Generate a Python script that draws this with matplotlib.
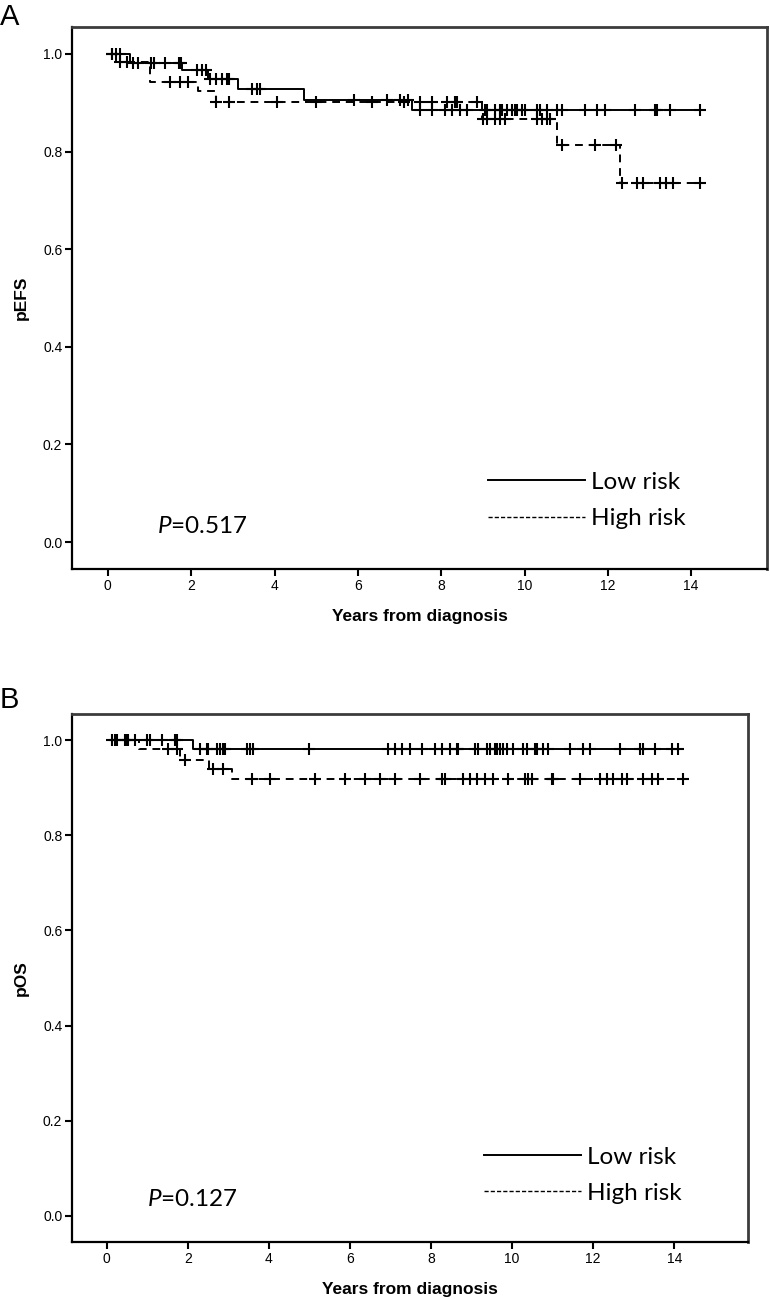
import numpy as np
import matplotlib
matplotlib.use("Agg")
import matplotlib.pyplot as plt
from matplotlib.lines import Line2D

plt.rcParams['font.family'] = ['Liberation Sans', 'DejaVu Sans']
plt.rcParams['mathtext.fontset'] = 'custom'
plt.rcParams['mathtext.it'] = 'Lato:italic'
plt.rcParams['mathtext.rm'] = 'Lato'

# ---- panel A: pEFS ----
a_low_times = [0.53, 1.77, 2.40, 3.12, 4.70, 7.29]
a_low_surv = [0.982, 0.967, 0.949, 0.929, 0.906, 0.886]
a_low_censor = [0.11, 0.2, 0.3, 0.6, 0.72, 1.03, 1.1, 1.36, 1.7, 1.75,
                2.13, 2.25, 2.35, 2.45, 2.6, 2.73, 2.85, 2.9, 3.45, 3.57, 3.65,
                5.9, 6.7, 7.0, 7.2, 7.48, 7.77, 8.08, 8.27, 8.44, 8.63, 9.04, 9.11,
                9.28, 9.40, 9.47, 9.57, 9.69, 9.76, 9.83, 9.93, 10.0, 10.29, 10.36,
                10.55, 10.77, 10.89, 11.44, 11.75, 11.92, 12.64, 13.12, 13.19,
                13.48, 14.2]
a_high_times = [0.2, 1.0, 2.16, 2.6, 8.97, 10.77, 12.28]
a_high_surv = [0.983, 0.943, 0.924, 0.902, 0.867, 0.814, 0.735]
a_high_censor = [0.1, 0.3, 0.45, 1.5, 1.74, 1.92, 2.6, 2.9, 4.05, 5.0, 6.35,
                 7.1, 7.5, 7.77, 8.13, 8.32, 8.39, 8.85, 9.0, 9.1, 9.28, 9.4,
                 9.52, 10.31, 10.41, 10.53, 10.6, 10.9, 11.7, 12.2, 12.33, 12.7,
                 12.85, 13.24, 13.4, 13.57, 14.2]

# ---- panel B: pOS ----
b_low_times = [2.12]
b_low_surv = [0.981]
b_low_censor = [0.12, 0.2, 0.25, 0.44, 0.49, 0.52, 0.69, 0.99, 1.06, 1.36, 1.68,
                1.73, 2.3, 2.47, 2.5, 2.72, 2.79, 2.86, 2.91, 3.46, 3.53, 3.6,
                4.99, 6.94, 7.11, 7.28, 7.48, 7.78, 8.1, 8.27, 8.47, 8.64, 8.67,
                9.09, 9.16, 9.38, 9.46, 9.58, 9.63, 9.7, 9.78, 9.88, 10.02, 10.27,
                10.37, 10.57, 10.62, 10.77, 10.89, 11.43, 11.75, 11.93, 12.67,
                13.16, 13.23, 13.53, 13.95, 14.1]
b_high_times = [0.8, 1.8, 2.52, 3.1]
b_high_surv = [0.981, 0.958, 0.939, 0.918]
b_high_censor = [1.5, 1.73, 1.93, 2.62, 2.86, 3.58, 4.02, 5.14, 5.88, 6.37,
                 6.74, 7.11, 7.73, 8.27, 8.35, 8.79, 8.96, 9.14, 9.33, 9.53, 9.9,
                 10.32, 10.4, 10.49, 10.99, 11.01, 11.68, 12.17, 12.35, 12.49,
                 12.72, 12.84, 13.23, 13.46, 13.6, 14.22]

end_time = 14.2
x_ticks = [0, 2, 4, 6, 8, 10, 12, 14]
y_ticks = [0.0, 0.2, 0.4, 0.6, 0.8, 1.0]


def km_curve(ax, times, surv, censor, ls, end):
    xs = [0.0] + list(times) + [max(end, max(censor))]
    ys = [1.0] + list(surv) + [surv[-1]]
    ax.step(xs, ys, where='post', color='black', lw=1.4, linestyle=ls)
    c = np.array(censor)
    idx = np.searchsorted(np.array(xs), c, side='right') - 1
    cy = np.array(ys)[idx]
    ax.plot(c, cy, linestyle='none', marker='+', ms=8, mew=1.5, color='black')


def style_axes(ax, ylabel, pval, p_x, p_y, leg_x, leg_y):
    ax.set_xlim(-0.86, 15.82)
    ax.set_ylim(-0.055, 1.055)
    ax.set_xticks(x_ticks)
    ax.set_yticks(y_ticks)
    ax.set_yticklabels(['%.1f' % v for v in y_ticks])
    ax.tick_params(direction='out', length=5, width=1.5, labelsize=10, pad=2)
    for s in ['left', 'bottom']:
        ax.spines[s].set_linewidth(1.6)
        ax.spines[s].set_color('black')
    for s in ['top', 'right']:
        ax.spines[s].set_linewidth(2.0)
        ax.spines[s].set_color('#3c3c3c')
    ax.set_xlabel('Years from diagnosis', fontweight='bold', fontsize=12.5, labelpad=12)
    ax.set_ylabel(ylabel, fontweight='bold', fontsize=12.5, labelpad=10)
    ax.text(p_x, p_y, r'$\it{P}$=' + pval, transform=ax.transAxes,
            fontsize=17.5, family='Lato', va='center')
    handles = [Line2D([], [], color='black', lw=1.4),
               Line2D([], [], color='black', lw=1.0, linestyle=(0, (3, 1.5)))]
    ax.legend(handles, ['Low risk', 'High risk'], loc='upper left',
              bbox_to_anchor=(leg_x, leg_y), frameon=False, handlelength=4.0,
              handletextpad=0.25, labelspacing=0.62, borderaxespad=0,
              prop={'family': 'Lato', 'size': 17.5})


fig = plt.figure(figsize=(7.7, 12.99), dpi=100)
ax1 = fig.add_axes([72 / 770, 1 - 569 / 1299, 695 / 770, 542 / 1299])
ax2 = fig.add_axes([72 / 770, 1 - 1242 / 1299, 676 / 770, 528 / 1299])

km_curve(ax1, a_low_times, a_low_surv, a_low_censor, '-', end_time)
km_curve(ax1, a_high_times, a_high_surv, a_high_censor, (0, (4, 3)), end_time)
style_axes(ax1, 'pEFS', '0.517', 0.122, 0.079, 0.584, 0.197)

km_curve(ax2, b_low_times, b_low_surv, b_low_censor, '-', end_time)
km_curve(ax2, b_high_times, b_high_surv, b_high_censor, (0, (4, 3)), end_time)
style_axes(ax2, 'pOS', '0.127', 0.111, 0.08, 0.595, 0.199)

fig.text(0.0, 1 - 3 / 1299, 'A', fontsize=21, va='top', ha='left')
fig.text(0.0, 1 - 686 / 1299, 'B', fontsize=21, va='top', ha='left')

fig.savefig('out.png', dpi=100)
